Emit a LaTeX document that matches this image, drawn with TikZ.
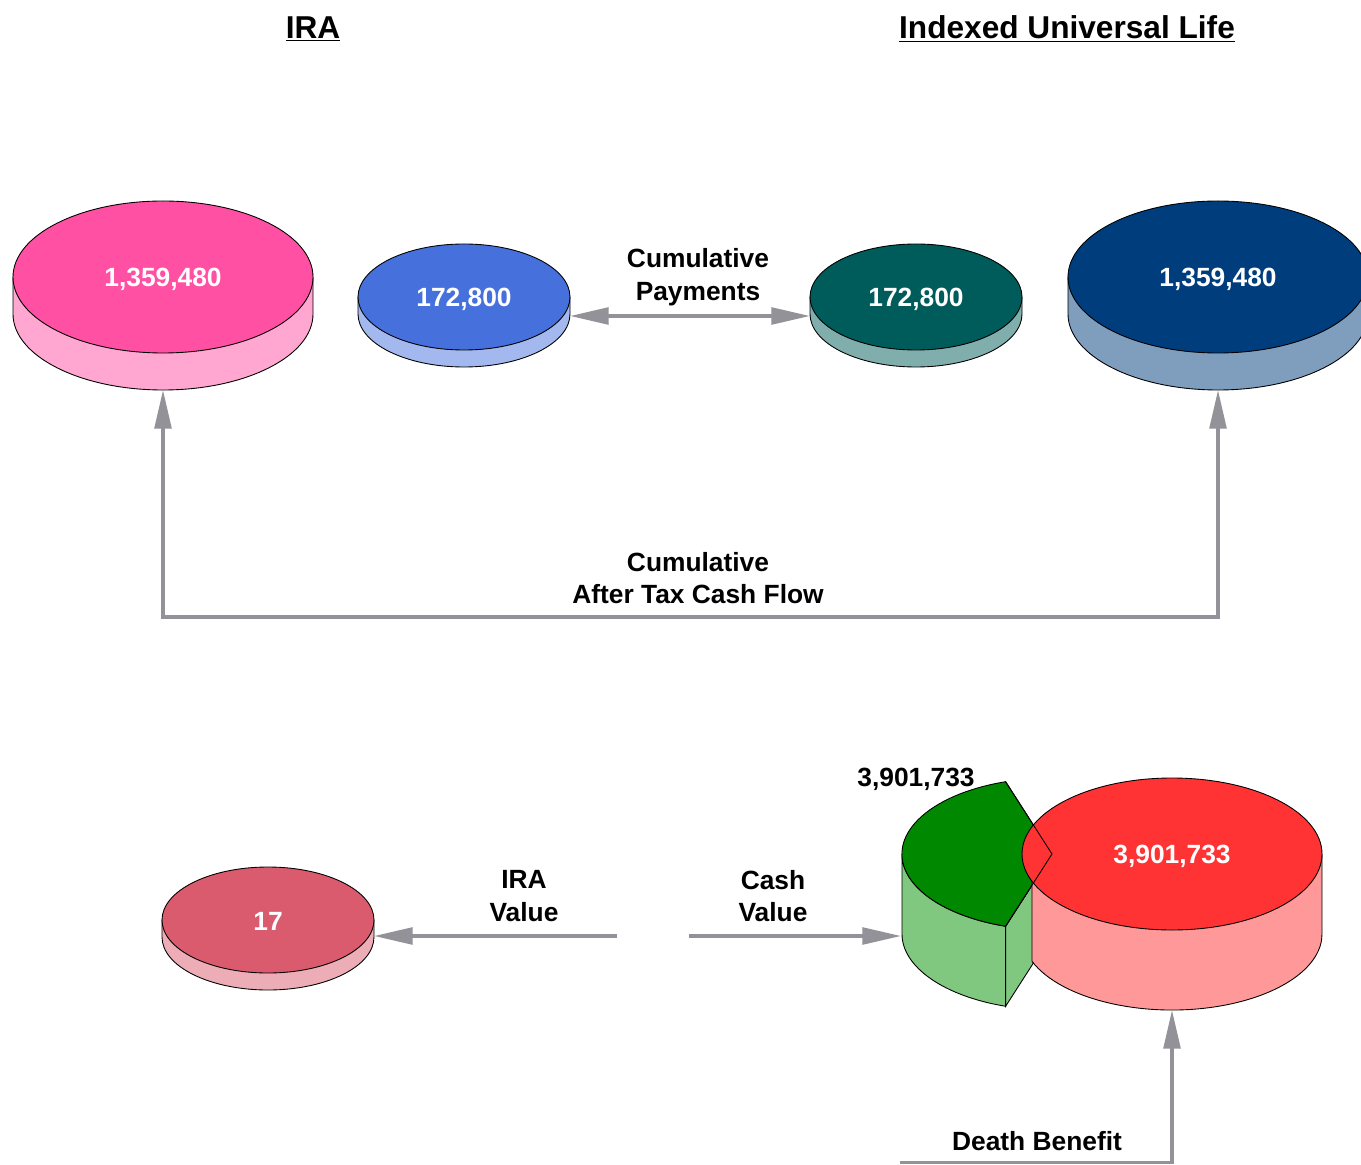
\documentclass[tikz,border=0pt]{standalone}
\usepackage{fontspec}
\setmainfont{Liberation Sans}
\usetikzlibrary{arrows.meta}

\definecolor{arrowgray}{RGB}{146,146,152}
\definecolor{pinktop}{RGB}{255,80,163}
\definecolor{pinkside}{RGB}{255,167,209}
\definecolor{bluetop}{RGB}{70,112,220}
\definecolor{blueside}{RGB}{163,184,238}
\definecolor{tealtop}{RGB}{0,92,90}
\definecolor{tealside}{RGB}{127,174,172}
\definecolor{navytop}{RGB}{0,61,125}
\definecolor{navyside}{RGB}{127,158,190}
\definecolor{rosetop}{RGB}{219,91,110}
\definecolor{roseside}{RGB}{237,173,182}
\definecolor{redtop}{RGB}{255,51,51}
\definecolor{redside}{RGB}{255,153,153}
\definecolor{greentop}{RGB}{0,136,0}
\definecolor{greenside}{RGB}{128,200,128}

% disk: centre x, centre y, x radius, y radius, depth, top colour, side colour
\newcommand{\diskcyl}[7]{%
  \filldraw[fill=#7, draw=black, line width=0.5pt] (#1-#3,#2) -- (#1-#3,#2-#5) arc [start angle=180, end angle=360, x radius=#3, y radius=#4] -- (#1+#3,#2) -- cycle;
  \filldraw[fill=#6, draw=black, line width=0.5pt] (#1,#2) ellipse [x radius=#3, y radius=#4];
}

\begin{document}
\begin{tikzpicture}[x=0.02cm, y=0.02cm,
  flow/.style={draw=arrowgray, line width=2pt, -{Triangle[length=22pt,width=9.5pt]}},
  twoway/.style={flow, {Triangle[length=22pt,width=9.5pt]}-{Triangle[length=22pt,width=9.5pt]}},
  lbl/.style={font=\fontsize{15}{18.5}\selectfont\bfseries, align=center, inner sep=0pt},
  num/.style={lbl, text=white},
  hd/.style={font=\fontsize{18}{22}\selectfont\bfseries, inner sep=0pt}]
\useasboundingbox (0,0) rectangle (1361,1164);

%%%%------------Overskrifter----------------%%
\node [hd] (iraHead) at (313,1135) {\underline{IRA}}					;
\node [hd] (iulHead) at (1067,1135) {\underline{Indexed Universal Life}}	;

%%%%------------Disker oppe----------------%%
\diskcyl{163}{887}{150}{76}{37}{pinktop}{pinkside}
\diskcyl{464}{867}{106}{53}{17}{bluetop}{blueside}
\diskcyl{916}{867}{106}{53}{17}{tealtop}{tealside}
\diskcyl{1218}{887}{150}{76}{37}{navytop}{navyside}
\node [num] (iraCash) at (163,885) {1,359,480}		;
\node [num] (iraPay) at (464,865) {172,800}			;
\node [num] (iulPay) at (916,865) {172,800}			;
\node [num] (iulCash) at (1218,885) {1,359,480}		;

%%%%------------Piler oppe----------------%%
\coordinate (payL) at (570,848)		;
\coordinate (payR) at (810,848)		;
\draw [twoway] (payL) -- (payR)		;
\node [lbl] (payTxt) at (698,887) {Cumulative\\Payments}	;

\coordinate (iraBot) at (163,774)		;
\coordinate (iulBot) at (1218,774)		;
\coordinate (flowL) at (163,547)		;
\coordinate (flowR) at (1218,547)		;
\draw [twoway] (iraBot) -- (flowL) -- (flowR) -- (iulBot)	;
\node [lbl] (flowTxt) at (698,586) {Cumulative\\After Tax Cash Flow}	;

%%%%------------Disker nede----------------%%
\diskcyl{268}{244}{106}{53}{17}{rosetop}{roseside}
\node [num] (iraVal) at (268,243) {17}		;

% utdratt kakestykke
\filldraw[fill=greenside, line width=0.5pt] (902,310) -- (902,230) arc [start angle=180, end angle=252, x radius=150, y radius=76] -- (1005.6,237.7) arc [start angle=252, end angle=180, x radius=150, y radius=76] -- cycle	;
\filldraw[fill=greenside, line width=0.5pt] (1005.6,237.7) -- (1052,310) -- (1052,230) -- (1005.6,157.7) -- cycle	;
\filldraw[fill=greentop, line width=0.5pt] (1052,310) -- (1005.6,382.3) arc [start angle=108, end angle=252, x radius=150, y radius=76] -- cycle	;

% resten
\filldraw[fill=redside, line width=0.5pt] (1032,282.7) -- (1032,202.7) arc [start angle=201.04, end angle=360, x radius=150, y radius=76] -- (1322,310) -- cycle	;
\filldraw[fill=redtop, line width=0.5pt] (1172,310) ellipse [x radius=150, y radius=76]	;
\draw [line width=0.5pt] (1005.6,382.3) -- (1052,310) -- (1005.6,237.7)	;
\node [num] (deathVal) at (1172,308) {3,901,733}		;
\node [lbl] (cashVal) at (916,385) {3,901,733}		;

%%%%------------Piler nede----------------%%
\coordinate (roseR) at (374,228)		;
\coordinate (iraValEnd) at (617,228)	;
\draw [flow] (iraValEnd) -- (roseR)		;
\node [lbl] (iraValTxt) at (524,268) {IRA\\Value}		;

\coordinate (cashStart) at (689,228)	;
\coordinate (greenL) at (901,228)		;
\draw [flow] (cashStart) -- (greenL)	;
\node [lbl] (cashTxt) at (773,268) {Cash\\Value}		;

\coordinate (deathStart) at (900,1.5)	;
\coordinate (deathCorner) at (1172,1.5)	;
\coordinate (redBot) at (1172,154)		;
\draw [flow] (deathStart) -- (deathCorner) -- (redBot)	;
\node [lbl] (deathTxt) at (1037,23) {Death Benefit}		;

\end{tikzpicture}
\end{document}
